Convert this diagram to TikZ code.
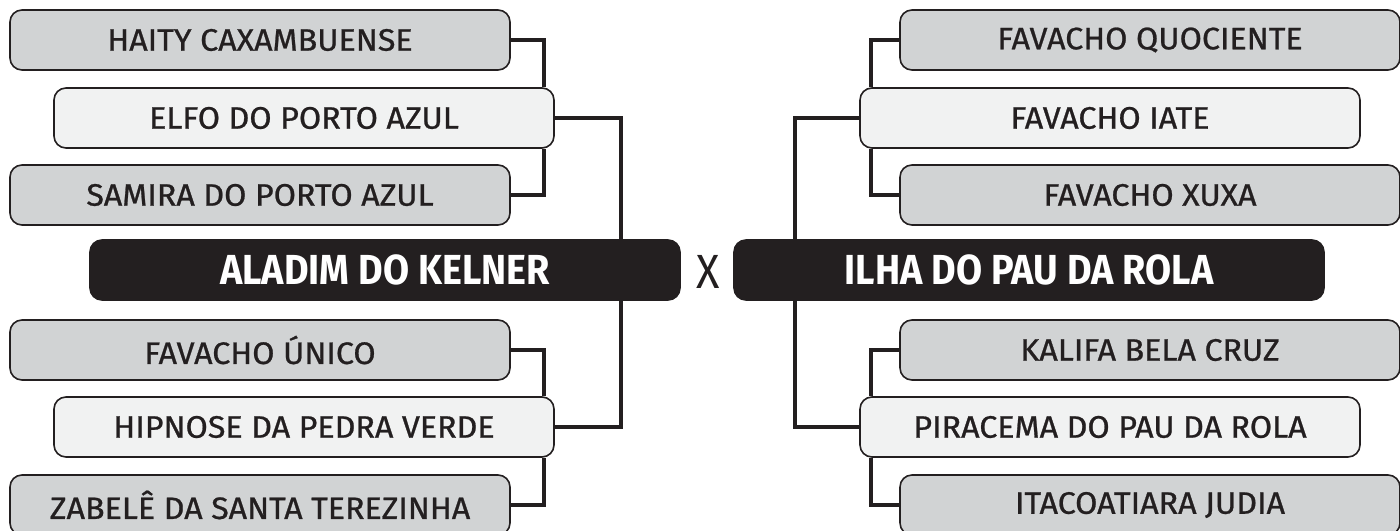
\documentclass[tikz,border=0pt]{standalone}
\usepackage{fontspec}
\setmainfont{Fira Sans}
\newfontfamily\seedfont[FakeStretch=1.04, FakeBold=0.8]{Fira Sans}
\newfontfamily\finalfont[FakeStretch=0.9]{Fira Sans}
\usetikzlibrary{backgrounds}
\definecolor{inkdark}{HTML}{231F20}
\definecolor{boxgray}{HTML}{D1D3D4}
\definecolor{boxlight}{HTML}{F1F2F2}
\begin{document}
\begin{tikzpicture}[x=0.5pt, y=-0.5pt,
  % Box styles for the bracket
  seed/.style={rectangle, draw=inkdark, fill=boxgray, line width=0.8pt, rounded corners=6pt, minimum width=250pt, minimum height=30pt, inner sep=0pt, text=inkdark, font=\seedfont\fontsize{15.5}{18}\selectfont},
  winner/.style={seed, fill=boxlight},
  finalist/.style={seed, fill=inkdark, text=white, minimum width=295pt, font=\finalfont\fontsize{21}{24}\selectfont\bfseries},
  % Connector style
  link/.style={draw=inkdark, line width=2pt}
]
\useasboundingbox (0,0) rectangle (1400,530);

% Left bracket
\node[seed] (haity) at (260,40) {HAITY CAXAMBUENSE};
\node[winner] (elfo) at (304,118) {ELFO DO PORTO AZUL};
\node[seed] (samira) at (260,195) {SAMIRA DO PORTO AZUL};
\node[finalist] (aladim) at (385,270) {ALADIM DO KELNER};
\node[seed] (unico) at (260,350) {FAVACHO ÚNICO};
\node[winner] (hipnose) at (304,427) {HIPNOSE DA PEDRA VERDE};
\node[seed] (zabele) at (260,505) {ZABELÊ DA SANTA TEREZINHA};

% Right bracket
\node[seed] (quociente) at (1150,40) {FAVACHO QUOCIENTE};
\node[winner] (iate) at (1110,118) {FAVACHO IATE};
\node[seed] (xuxa) at (1150,195) {FAVACHO XUXA};
\node[finalist] (ilha) at (1029,270) {ILHA DO PAU DA ROLA};
\node[seed] (kalifa) at (1150,350) {KALIFA BELA CRUZ};
\node[winner] (piracema) at (1110,427) {PIRACEMA DO PAU DA ROLA};
\node[seed] (itacoatiara) at (1150,505) {ITACOATIARA JUDIA};

% Versus mark
\node[text=inkdark, font=\finalfont\fontsize{24}{26}\selectfont] (versus) at (708,272) {X};

% Connectors behind the boxes
\begin{scope}[on background layer]
\draw[link] (haity.east) -| ([xshift=-5.5pt]elfo.north east);
\draw[link] (samira.east) -| ([xshift=-5.5pt]elfo.south east);
\draw[link] (elfo.east) -| ([xshift=-30pt]aladim.north east);
\draw[link] (unico.east) -| ([xshift=-5.5pt]hipnose.north east);
\draw[link] (zabele.east) -| ([xshift=-5.5pt]hipnose.south east);
\draw[link] (hipnose.east) -| ([xshift=-30pt]aladim.south east);
\draw[link] (quociente.west) -| ([xshift=6pt]iate.north west);
\draw[link] (xuxa.west) -| ([xshift=6pt]iate.south west);
\draw[link] (iate.west) -| ([xshift=31pt]ilha.north west);
\draw[link] (kalifa.west) -| ([xshift=6pt]piracema.north west);
\draw[link] (itacoatiara.west) -| ([xshift=6pt]piracema.south west);
\draw[link] (piracema.west) -| ([xshift=31pt]ilha.south west);
\end{scope}

\end{tikzpicture}
\end{document}
